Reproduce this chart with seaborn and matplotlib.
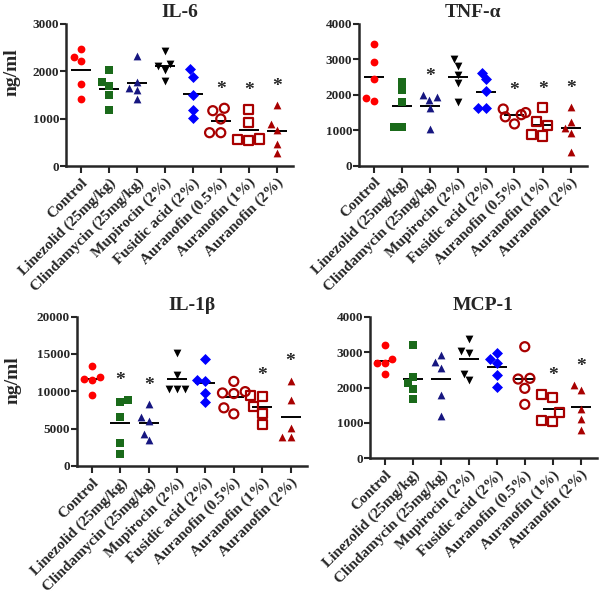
import pandas as pd
import seaborn as sns
import matplotlib.pyplot as plt

groups = ['Control', 'Linezolid (25mg/kg)', 'Clindamycin (25mg/kg)', 'Mupirocin (2%)',
          'Fusidic acid (2%)', 'Auranofin (0.5%)', 'Auranofin (1%)', 'Auranofin (2%)']

# values, one list per group
il6_values = [
    [2467, 2311, 2220, 1727, 1416],
    [2036, 1770, 1691, 1494, 1184],
    [2325, 1776, 1642, 1607, 1410],
    [2431, 2150, 2120, 2030, 1797],
    [2044, 1888, 1494, 1184, 1015],
    [1220, 1169, 994, 704, 704],
    [1199, 915, 571, 535, 550],
    [1283, 882, 761, 459, 281],
]
tnf_values = [
    [3432, 2940, 2460, 1838, 1905],
    [2365, 2139, 1808, 1085, 1085],
    [1988, 1933, 1856, 1638, 1045],
    [3005, 2816, 2550, 2327, 1808],
    [2629, 2441, 2102, 1621, 1621],
    [1600, 1500, 1440, 1380, 1180],
    [1640, 1243, 1130, 839, 887],
    [1667, 1243, 1073, 915, 395],
]
il1b_values = [
    [13400, 11900, 11700, 11530, 9500],
    [8870, 8510, 6560, 3090, 1580],
    [8240, 6510, 6070, 4300, 3450],
    [15150, 12150, 10250, 10250, 10250],
    [14370, 11470, 11390, 9790, 8540],
    [11330, 9700, 9780, 9960, 7790, 6980],
    [9340, 9480, 8020, 7010, 5500],
    [11440, 8870, 5050, 3850, 3850],
]
mcp1_values = [
    [3190, 2793, 2700, 2700, 2370],
    [3210, 2307, 2120, 1950, 1667],
    [2907, 2720, 2560, 1788, 1195],
    [3360, 3040, 2966, 2381, 2212],
    [2966, 2814, 2700, 2353, 2023],
    [3153, 2260, 2240, 1977, 1525],
    [1720, 1815, 1300, 1035, 1082],
    [2071, 1930, 1384, 1102, 800],
]

# groups marked with * (significant vs control)
il6_sig = [5, 6, 7]
tnf_sig = [2, 5, 6, 7]
il1b_sig = [1, 2, 6, 7]
mcp1_sig = [6, 7]

group_colors = ['#ff0000', '#1a6a1a', '#161680', '#000000', '#0000ff', '#a80000', '#a80000', '#a80000']
group_markers = ['o', 's', '^', 'v', 'D', 'o', 's', '^']
group_open = [False, False, False, False, False, True, True, False]

sns.set_theme(style='ticks')
plt.rcParams['font.family'] = ['Liberation Serif', 'DejaVu Serif']
plt.rcParams['font.weight'] = 'bold'


def long_table(values):
    rows = []
    for g, vals in zip(groups, values):
        for v in vals:
            rows.append({'group': g, 'value': v})
    return pd.DataFrame(rows)


def draw_panel(ax, title, values, sig, ymax, step, ylabel_pos=None):
    df = long_table(values)
    for i, g in enumerate(groups):
        sub = df[df['group'] == g]
        n_before = len(ax.collections)
        sns.swarmplot(data=sub, x='group', y='value', order=groups, ax=ax,
                      color=group_colors[i], marker=group_markers[i],
                      size=6.5 if group_open[i] else 5.6)
        if group_open[i]:
            for coll in ax.collections[n_before:]:
                coll.set_facecolor('none')
                coll.set_edgecolor(group_colors[i])
                coll.set_linewidth(1.6)
    sns.pointplot(data=df, x='group', y='value', order=groups, ax=ax,
                  estimator='mean', errorbar=None, color='black', marker='_',
                  markersize=14, markeredgewidth=1.4, linestyle='none')
    for i in sig:
        top = max(values[i])
        ax.text(i, top + 0.13 * ymax, '*', ha='center', va='center',
                fontsize=14, fontweight='bold')
    ax.set_xlim(-0.53, 7.58)
    ax.set_ylim(0, ymax)
    ax.set_yticks(range(0, ymax + 1, step))
    ax.set_xticks(range(len(groups)))
    ax.set_xticklabels(groups, rotation=45, ha='right', va='top',
                       rotation_mode='anchor', fontsize=11, fontweight='bold')
    ax.tick_params(axis='y', labelsize=9.5, width=1.5, length=4, pad=1)
    ax.tick_params(axis='x', width=1.5, length=5, pad=2)
    for lab in ax.get_yticklabels():
        lab.set_fontweight('bold')
    for s in ['left', 'bottom']:
        ax.spines[s].set_linewidth(1.8)
    sns.despine(ax=ax)
    ax.set_xlabel('')
    ax.set_title(title, fontsize=14, fontweight='bold', pad=5)
    if ylabel_pos is not None:
        ax.set_ylabel('ng/ml', fontsize=14, fontweight='bold')
        ax.yaxis.set_label_coords(ylabel_pos[0], ylabel_pos[1], transform=fig.transFigure)
    else:
        ax.set_ylabel('')


fig = plt.figure(figsize=(6.01, 5.94), dpi=100)
ax1 = fig.add_axes([0.1098, 0.7205, 0.3777, 0.2391])
ax2 = fig.add_axes([0.5973, 0.7210, 0.3794, 0.2386])
ax3 = fig.add_axes([0.1281, 0.2155, 0.3827, 0.2514])
ax4 = fig.add_axes([0.6156, 0.2284, 0.3777, 0.2384])

draw_panel(ax1, 'IL-6', il6_values, il6_sig, 3000, 1000, ylabel_pos=(21 / 601, 1 - 72 / 594))
draw_panel(ax2, 'TNF-α', tnf_values, tnf_sig, 4000, 1000)
draw_panel(ax3, 'IL-1β', il1b_values, il1b_sig, 20000, 5000, ylabel_pos=(22 / 601, 1 - 380 / 594))
draw_panel(ax4, 'MCP-1', mcp1_values, mcp1_sig, 4000, 1000)

fig.savefig('out.png', dpi=100)
